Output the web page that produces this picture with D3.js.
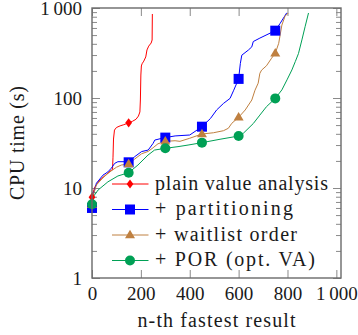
<!DOCTYPE html>
<html>
<head>
<meta charset="utf-8">
<script src="https://cdn.jsdelivr.net/npm/d3@7"></script>
<style>
  body { margin: 0; background: #fff; }
  svg text { font-family: "Liberation Serif", "DejaVu Serif", serif; fill: #1a1a1a; }
</style>
</head>
<body>
<div id="chart"></div>
<script>
// n-th fastest result vs CPU time
const plainN = [0, 5, 12, 25, 40, 60, 75, 84, 86, 88, 92, 100, 115, 130, 150, 165, 180, 190, 196, 198, 200, 202, 205, 212, 220, 225, 232, 242, 246, 247];
const plainT = [7.9, 9, 10.3, 11.6, 12.8, 14.2, 15.5, 16, 22, 35, 44, 47, 49, 50.5, 53, 55, 58, 63, 70, 95, 180, 227, 240, 257, 286, 342, 377, 408, 441, 858];

const partN = [0, 3, 18, 45, 65, 79, 93, 106, 133, 150, 175, 203, 230, 250, 257, 285, 300, 340, 400, 450, 485, 510, 538, 565, 580, 600, 607, 613, 640, 654, 660, 687, 750, 770, 797];
const partT = [6.0, 8, 11.3, 13.9, 15.1, 16.6, 18.8, 19.6, 19.6, 19.3, 22.3, 25.4, 26.4, 31.3, 34.1, 35.6, 36.3, 37.9, 38.8, 48, 59.3, 73.6, 87, 99, 122, 163, 241, 299, 341, 370, 424, 463, 560, 675, 884];

const waitN = [0, 3, 18, 45, 65, 79, 100, 120, 150, 175, 203, 230, 250, 270, 300, 340, 360, 400, 450, 497, 538, 558, 572, 600, 627, 654, 667, 680, 687, 694, 714, 735, 750, 764, 770, 777, 790, 803];
const waitT = [6.5, 8, 10.8, 13, 14.5, 15.5, 17, 18, 18.5, 21, 24, 25.5, 28, 31, 33, 33.5, 33, 35.7, 39.8, 41.1, 43.3, 46.1, 52.3, 61, 73.6, 95, 122, 146, 188, 204, 228, 277, 314, 405, 501, 646, 811, 880];

const porN = [0, 5, 25, 65, 106, 150, 188, 229, 256, 300, 352, 393, 450, 524, 600, 605, 619, 660, 687, 714, 750, 777, 798, 818, 832, 845, 859, 872, 886];
const porT = [6.6, 8, 9.5, 11.7, 13.6, 14.8, 18, 23.2, 26.4, 27.6, 28.8, 30, 31.9, 34.8, 37.8, 38, 40.5, 52, 64.6, 80.1, 99, 123, 159, 205, 254, 312, 442, 619, 880];

const seriesNames = ["plain value analysis", "+ partitioning", "+ waitlist order", "+ POR (opt. VA)"];
const markEvery = 150;

const xTicks = [0, 200, 400, 600, 800, 1000];
const yTicks = [1, 10, 100, 1000];

const width = 358;
const height = 335;
const margin = { top: 8, right: 17, bottom: 57, left: 92 };
const innerW = width - margin.left - margin.right;
const innerH = height - margin.top - margin.bottom;

const series = [
    { name: seriesNames[0], n: plainN, t: plainT, color: "#ff0000", mark: "diamond", textLen: 173 },
    { name: seriesNames[1], n: partN, t: partT, color: "#0000ff", mark: "square", textLen: 138 },
    { name: seriesNames[2], n: waitN, t: waitT, color: "#bf8040", mark: "triangle", textLen: 142 },
    { name: seriesNames[3], n: porN, t: porT, color: "#00a055", mark: "circle", textLen: 160 }
];

const markPaths = {
    diamond: "M0,-4.6L3.4,0L0,4.6L-3.4,0Z",
    square: "M-5,-5H5V5H-5Z",
    triangle: "M0,-5.3L5,3.2H-5Z",
    circle: d3.symbol(d3.symbolCircle, Math.PI * 25)()
};

const svg = d3.select("#chart")
    .append("svg")
    .attr("width", width)
    .attr("height", height);

const g = svg.append("g")
    .attr("transform", `translate(${margin.left},${margin.top})`);

const x = d3.scaleLinear().domain([0, 1019]).range([0, innerW]);
const y = d3.scaleLog().domain([1, 1000]).range([innerH, 0]);

const fmt = d => d >= 1000 ? String(d).replace(/(\d)(\d{3})$/, "$1\u2009$2") : String(d);

const minorY = [];
[1, 10, 100].forEach(dec => {
    for (let k = 2; k <= 9; k++) minorY.push(dec * k);
});

function styleAxis(sel) {
    sel.select(".domain").remove();
    sel.selectAll(".tick line").attr("stroke", "#8a8a8a").attr("stroke-width", 1);
    sel.selectAll(".tick text").style("font-size", "19px");
}

// bottom / top ticks
g.append("g")
    .attr("transform", `translate(0,${innerH})`)
    .call(d3.axisBottom(x).tickValues(xTicks).tickSize(-8).tickPadding(8.5).tickFormat(fmt))
    .call(styleAxis);

g.append("g")
    .call(d3.axisTop(x).tickValues(xTicks).tickSize(-8).tickFormat(""))
    .call(styleAxis);

// left / right ticks
g.append("g")
    .call(d3.axisLeft(y).tickValues(yTicks).tickSize(-8).tickPadding(10).tickFormat(fmt))
    .call(styleAxis);

g.append("g")
    .call(d3.axisLeft(y).tickValues(minorY).tickSize(-5).tickFormat(""))
    .call(styleAxis);

g.append("g")
    .attr("transform", `translate(${innerW},0)`)
    .call(d3.axisRight(y).tickValues(yTicks).tickSize(-8).tickFormat(""))
    .call(styleAxis);

g.append("g")
    .attr("transform", `translate(${innerW},0)`)
    .call(d3.axisRight(y).tickValues(minorY).tickSize(-5).tickFormat(""))
    .call(styleAxis);

const line = d3.line()
    .x(d => x(d[0]))
    .y(d => y(d[1]));

series.forEach(s => {
    const pts = s.n.map((n, i) => [n, s.t[i]]);

    g.append("path")
        .datum(pts)
        .attr("fill", "none")
        .attr("stroke", s.color)
        .attr("stroke-width", 1)
        .attr("d", line);
});

series.forEach(s => {
    const pts = s.n.map((n, i) => [n, s.t[i]]).filter(d => d[0] % markEvery === 0);

    g.selectAll(null)
        .data(pts)
        .enter()
        .append("path")
        .attr("d", markPaths[s.mark])
        .attr("transform", d => `translate(${x(d[0])},${y(d[1])})`)
        .attr("fill", s.color);
});

// frame
g.append("rect")
    .attr("width", innerW)
    .attr("height", innerH)
    .attr("fill", "none")
    .attr("stroke", "#6a6a6a")
    .attr("stroke-width", 1.4);

// legend
const legend = svg.append("g")
    .attr("transform", "translate(112,184)");

series.forEach((s, i) => {
    const row = legend.append("g")
        .attr("transform", `translate(0,${i * 25.5})`);

    row.append("line")
        .attr("x1", 0)
        .attr("x2", 36.5)
        .attr("stroke", s.color)
        .attr("stroke-width", 1);

    row.append("path")
        .attr("d", markPaths[s.mark])
        .attr("transform", "translate(18,0)")
        .attr("fill", s.color);

    row.append("text")
        .attr("x", 43)
        .attr("y", 5.5)
        .attr("textLength", s.textLen)
        .attr("lengthAdjust", "spacing")
        .style("font-size", "20px")
        .text(s.name);
});

// axis labels
svg.append("text")
    .attr("x", margin.left + innerW / 2)
    .attr("y", 326.5)
    .attr("text-anchor", "middle")
    .attr("textLength", 158)
    .attr("lengthAdjust", "spacing")
    .style("font-size", "20px")
    .text("n-th fastest result");

svg.append("text")
    .attr("transform", `translate(24,${margin.top + innerH / 2}) rotate(-90)`)
    .attr("text-anchor", "middle")
    .attr("textLength", 114)
    .attr("lengthAdjust", "spacing")
    .style("font-size", "20px")
    .text("CPU time (s)");
</script>
</body>
</html>
